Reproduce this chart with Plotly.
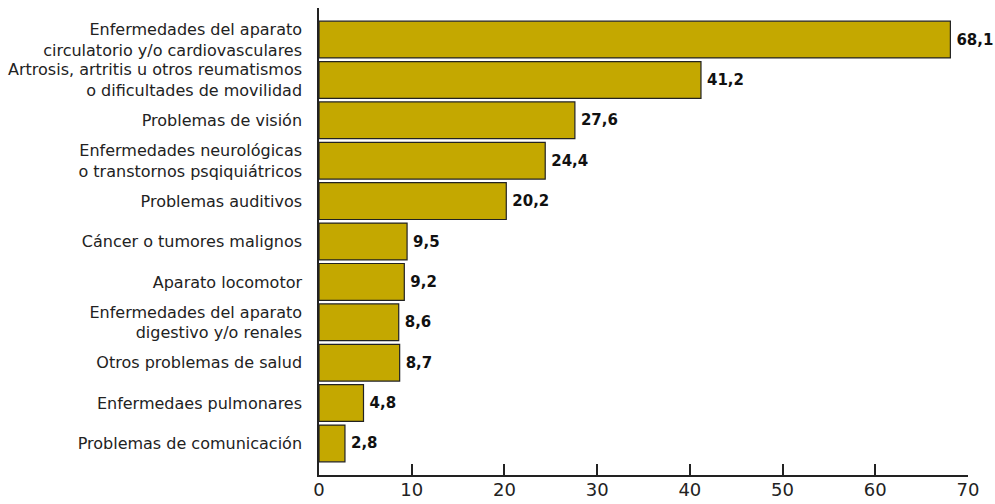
import plotly.graph_objects as go

categories = [
    "Enfermedades del aparato<br>circulatorio y/o cardiovasculares",
    "Artrosis, artritis u otros reumatismos<br>o dificultades de movilidad",
    "Problemas de visión",
    "Enfermedades neurológicas<br>o transtornos psqiquiátricos",
    "Problemas auditivos",
    "Cáncer o tumores malignos",
    "Aparato locomotor",
    "Enfermedades del aparato<br>digestivo y/o renales",
    "Otros problemas de salud",
    "Enfermedaes pulmonares",
    "Problemas de comunicación",
]
values = [68.1, 41.2, 27.6, 24.4, 20.2, 9.5, 9.2, 8.6, 8.7, 4.8, 2.8]
value_labels = ["68,1", "41,2", "27,6", "24,4", "20,2", "9,5", "9,2", "8,6", "8,7", "4,8", "2,8"]
x_ticks = [0, 10, 20, 30, 40, 50, 60, 70]

cats_rev = categories[::-1]
vals_rev = values[::-1]
labs_rev = ["\u2009" + s for s in value_labels[::-1]]

fig = go.Figure(go.Bar(
    y=cats_rev,
    x=vals_rev,
    orientation="h",
    marker=dict(color="#C4A800", line=dict(color="#222222", width=1.2)),
    text=labs_rev,
    textposition="outside",
    textfont=dict(family="DejaVu Sans", size=15, color="#111111", weight="bold"),
    cliponaxis=False,
))

fig.update_layout(
    width=995, height=504,
    margin=dict(l=319, r=27, t=8, b=29, autoexpand=False),
    paper_bgcolor="white", plot_bgcolor="white",
    bargap=0.09,
    showlegend=False,
    font=dict(family="DejaVu Sans", color="#222222"),
)
fig.update_xaxes(
    range=[0, 70], tickvals=x_ticks, ticktext=[str(t) for t in x_ticks],
    showgrid=False, zeroline=False, automargin=False,
    showline=True, linecolor="#222222", linewidth=1.5,
    ticks="inside", ticklen=11, tickcolor="#222222", tickwidth=1.5,
    ticklabelstandoff=-2,
    tickfont=dict(size=18, color="#222222"),
)
fig.update_yaxes(
    range=[-0.78, 10.78], automargin=False,
    showgrid=False, zeroline=False,
    showline=True, linecolor="#222222", linewidth=1.5,
    ticks="", ticklabelstandoff=12,
    tickfont=dict(size=16, color="#222222"),
)

fig.write_html("out.html")
